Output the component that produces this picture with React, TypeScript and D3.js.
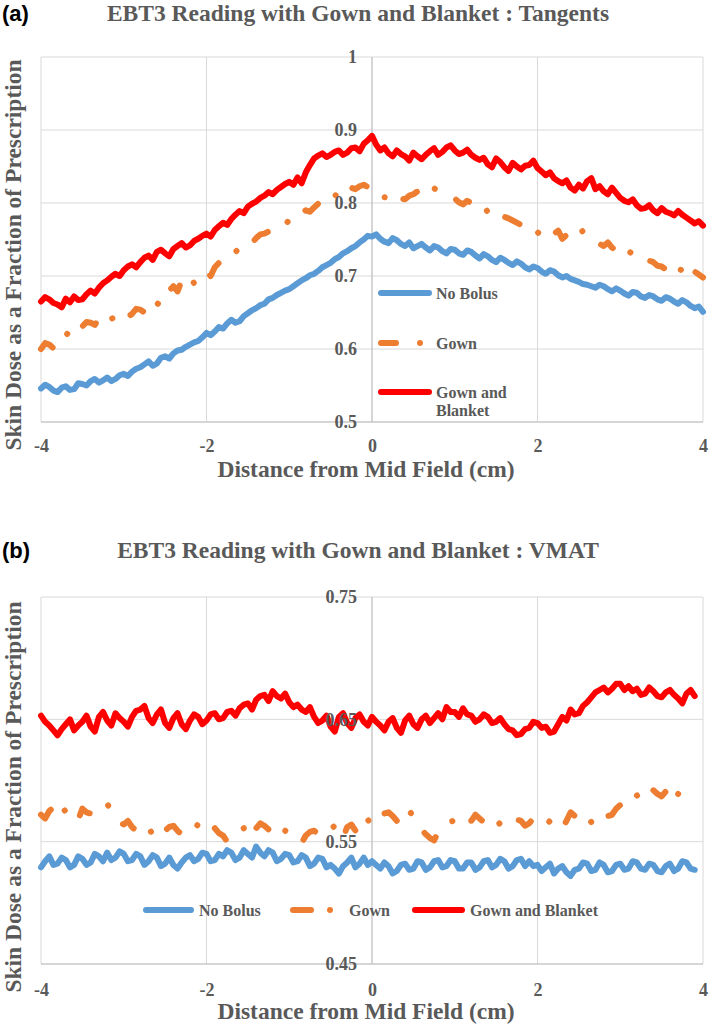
import { useEffect, useRef } from "react";
import * as d3 from "d3";

// film positions (cm), one reading every 0.05 cm
const distanceA = d3.range(-80, 81).map((i) => i / 20);
const distanceB = d3.range(-80, 79).map((i) => i / 20);

const xTicks = [-4, -2, 0, 2, 4];
const yTicksA = [0.5, 0.6, 0.7, 0.8, 0.9, 1];
const yTicksB = [0.45, 0.55, 0.65, 0.75];

const seriesNames = ["No Bolus", "Gown", "Gown and Blanket"];

// (a) Tangents
const noBolusA = [
  0.546, 0.551, 0.548, 0.543, 0.541, 0.547, 0.549, 0.544, 0.545, 0.553,
  0.552, 0.55, 0.556, 0.559, 0.554, 0.557, 0.561, 0.556, 0.559, 0.564,
  0.566, 0.563, 0.569, 0.573, 0.575, 0.579, 0.583, 0.577, 0.58, 0.588,
  0.59, 0.587, 0.594, 0.598, 0.599, 0.603, 0.606, 0.609, 0.611, 0.616,
  0.622, 0.619, 0.624, 0.63, 0.628, 0.635, 0.64, 0.636, 0.638, 0.645,
  0.649, 0.653, 0.656, 0.66, 0.662, 0.668, 0.67, 0.674, 0.677, 0.68,
  0.682, 0.686, 0.69, 0.694, 0.697, 0.701, 0.703, 0.707, 0.712, 0.715,
  0.718, 0.723, 0.726, 0.731, 0.734, 0.738, 0.741, 0.746, 0.75, 0.755,
  0.754, 0.757, 0.751, 0.747, 0.745, 0.752, 0.749, 0.744, 0.741, 0.746,
  0.738, 0.741, 0.744, 0.739, 0.735, 0.741, 0.739, 0.734, 0.731, 0.737,
  0.736, 0.731, 0.729, 0.735, 0.733, 0.728, 0.724, 0.73, 0.727, 0.722,
  0.719, 0.725, 0.722, 0.718, 0.715, 0.72, 0.717, 0.712, 0.709, 0.713,
  0.711, 0.706, 0.703, 0.708, 0.706, 0.701, 0.698, 0.7, 0.696, 0.694,
  0.692, 0.689, 0.688, 0.686, 0.684, 0.688, 0.686, 0.682, 0.679, 0.683,
  0.68, 0.676, 0.673, 0.678, 0.677, 0.672, 0.67, 0.674, 0.672, 0.668,
  0.666, 0.671, 0.669, 0.665, 0.662, 0.667, 0.664, 0.659, 0.656, 0.658,
  0.651,
];
const gownA = [
  0.6, 0.608, 0.606, 0.601, 0.612, 0.61, 0.618, 0.626, 0.624, 0.62,
  0.631, 0.637, 0.636, 0.633, 0.642, 0.649, 0.647, 0.641, 0.645, 0.652,
  0.65, 0.644, 0.648, 0.655, 0.654, 0.65, 0.657, 0.652, 0.663, 0.659,
  0.668, 0.68, 0.686, 0.679, 0.694, 0.701, 0.7, 0.69, 0.696, 0.703,
  0.707, 0.7, 0.712, 0.718, 0.716, 0.724, 0.728, 0.733, 0.738, 0.744,
  0.748, 0.745, 0.752, 0.757, 0.758, 0.761, 0.764, 0.769, 0.772, 0.77,
  0.777, 0.784, 0.781, 0.786, 0.79, 0.788, 0.794, 0.799, 0.801, 0.797,
  0.806, 0.811, 0.809, 0.805, 0.815, 0.821, 0.819, 0.823, 0.825, 0.822,
  0.818, 0.821, 0.813, 0.808, 0.807, 0.815, 0.811, 0.806, 0.805, 0.81,
  0.812, 0.816, 0.808, 0.811, 0.815, 0.82, 0.817, 0.814, 0.812, 0.809,
  0.806, 0.801, 0.798, 0.803, 0.8, 0.795, 0.793, 0.797, 0.787, 0.783,
  0.789, 0.784, 0.781, 0.779, 0.776, 0.773, 0.77, 0.767, 0.764, 0.756,
  0.76, 0.755, 0.752, 0.749, 0.758, 0.762, 0.751, 0.756, 0.763, 0.766,
  0.758, 0.762, 0.76, 0.754, 0.748, 0.744, 0.741, 0.746, 0.739, 0.735,
  0.743, 0.738, 0.734, 0.73, 0.728, 0.731, 0.725, 0.721, 0.719, 0.714,
  0.713, 0.709, 0.717, 0.719, 0.711, 0.707, 0.714, 0.718, 0.706, 0.702,
  0.698,
];
const gownBlanketA = [
  0.665, 0.671, 0.668, 0.663, 0.661, 0.657, 0.669, 0.664, 0.672, 0.667,
  0.668, 0.675, 0.68, 0.676, 0.684, 0.69, 0.694, 0.699, 0.703, 0.7,
  0.708, 0.713, 0.716, 0.712, 0.719, 0.725, 0.728, 0.722, 0.733, 0.736,
  0.731, 0.727, 0.737, 0.741, 0.745, 0.739, 0.742, 0.748, 0.751, 0.755,
  0.758, 0.754, 0.763, 0.768, 0.773, 0.77, 0.778, 0.784, 0.789, 0.786,
  0.795, 0.799, 0.802, 0.807, 0.81, 0.815, 0.812, 0.818, 0.822, 0.826,
  0.829, 0.825, 0.835, 0.827, 0.842, 0.852, 0.861, 0.865, 0.868, 0.863,
  0.866, 0.87, 0.872, 0.866, 0.869, 0.875, 0.876, 0.871, 0.881, 0.886,
  0.892, 0.88, 0.872, 0.876, 0.868, 0.864, 0.872, 0.867, 0.864, 0.858,
  0.869, 0.864, 0.86, 0.866, 0.871, 0.875, 0.866, 0.87, 0.876, 0.879,
  0.872, 0.867, 0.869, 0.873, 0.866, 0.862, 0.859, 0.862, 0.853, 0.849,
  0.861, 0.856, 0.849, 0.844, 0.855, 0.85, 0.846, 0.851, 0.852, 0.858,
  0.848, 0.843, 0.838, 0.842, 0.834, 0.83, 0.827, 0.831, 0.821, 0.817,
  0.825, 0.82, 0.83, 0.834, 0.819, 0.823, 0.816, 0.812, 0.821, 0.814,
  0.807, 0.803, 0.801, 0.805, 0.797, 0.792, 0.793, 0.797, 0.79, 0.786,
  0.793, 0.788, 0.786, 0.783, 0.789, 0.784, 0.78, 0.776, 0.772, 0.775,
  0.769,
];

// (b) VMAT
const noBolusB = [
  0.529, 0.534, 0.538, 0.531, 0.532, 0.537, 0.535, 0.529, 0.531, 0.538,
  0.536, 0.531, 0.533, 0.54, 0.538, 0.534, 0.541, 0.535, 0.537, 0.542,
  0.54, 0.534, 0.535, 0.54, 0.538, 0.531, 0.534, 0.539, 0.537, 0.53,
  0.532, 0.537, 0.531, 0.528, 0.533, 0.537, 0.539, 0.534, 0.536, 0.541,
  0.54, 0.534, 0.535, 0.54, 0.538, 0.543, 0.541, 0.535, 0.537, 0.543,
  0.54, 0.537, 0.546, 0.541, 0.538, 0.543, 0.541, 0.534, 0.536, 0.54,
  0.539, 0.533, 0.534, 0.539, 0.537, 0.53, 0.532, 0.537, 0.536, 0.529,
  0.531, 0.528, 0.524, 0.53, 0.533, 0.537, 0.529, 0.532, 0.537, 0.531,
  0.534, 0.531, 0.528, 0.533, 0.53, 0.524, 0.526, 0.531, 0.532, 0.527,
  0.528, 0.534, 0.533, 0.527, 0.529, 0.534, 0.535, 0.529, 0.53, 0.535,
  0.534, 0.528, 0.528, 0.533, 0.533, 0.527, 0.529, 0.534, 0.535, 0.529,
  0.531, 0.536, 0.534, 0.528, 0.53, 0.535, 0.536, 0.53, 0.534, 0.53,
  0.531, 0.526, 0.529, 0.532, 0.524, 0.528, 0.53, 0.525, 0.522, 0.527,
  0.528, 0.533, 0.532, 0.526, 0.527, 0.533, 0.531, 0.525, 0.526, 0.531,
  0.532, 0.527, 0.528, 0.534, 0.533, 0.528, 0.527, 0.532, 0.531, 0.526,
  0.525, 0.53, 0.532, 0.526, 0.528, 0.534, 0.533, 0.528, 0.527,
];
const gownB = [
  0.572, 0.569, 0.575, 0.578, 0.57, 0.574, 0.576, 0.571, 0.572, 0.568,
  0.577, 0.574, 0.573, 0.577, 0.576, 0.579, 0.581, 0.575, 0.57, 0.566,
  0.564, 0.567, 0.562, 0.559, 0.558, 0.563, 0.561, 0.556, 0.552, 0.555,
  0.559, 0.562, 0.563, 0.559, 0.556, 0.558, 0.56, 0.565, 0.563, 0.559,
  0.558, 0.563, 0.561, 0.557, 0.555, 0.55, 0.553, 0.557, 0.559, 0.561,
  0.556, 0.553, 0.561, 0.565, 0.563, 0.56, 0.558, 0.564, 0.562, 0.559,
  0.557, 0.554, 0.551, 0.549, 0.555, 0.558, 0.559, 0.556, 0.554, 0.557,
  0.56, 0.563, 0.557, 0.553, 0.562, 0.564, 0.559, 0.556, 0.565, 0.568,
  0.563, 0.566, 0.57, 0.573, 0.574, 0.571, 0.567, 0.572, 0.578, 0.575,
  0.571, 0.566, 0.56, 0.556, 0.553, 0.551, 0.558, 0.561, 0.562, 0.566,
  0.568, 0.572, 0.571, 0.567, 0.567, 0.572, 0.569, 0.566, 0.565, 0.57,
  0.568, 0.564, 0.566, 0.569, 0.571, 0.568, 0.567, 0.563, 0.565, 0.569,
  0.567, 0.564, 0.563, 0.567, 0.568, 0.564, 0.561, 0.567, 0.574, 0.571,
  0.568, 0.572, 0.571, 0.566, 0.57, 0.573, 0.575, 0.571, 0.572, 0.577,
  0.58, 0.578, 0.584, 0.587, 0.588, 0.583, 0.585, 0.59, 0.592, 0.589,
  0.587, 0.591, 0.585, 0.582, 0.589, 0.586, 0.583, 0.588, 0.586,
];
const gownBlanketB = [
  0.653, 0.648, 0.645, 0.641, 0.637, 0.642, 0.646, 0.65, 0.641, 0.645,
  0.648, 0.653, 0.644, 0.64, 0.652, 0.656, 0.649, 0.645, 0.655, 0.651,
  0.648, 0.644, 0.652, 0.657, 0.658, 0.661, 0.651, 0.647, 0.654, 0.658,
  0.647, 0.643, 0.651, 0.655, 0.646, 0.642, 0.649, 0.654, 0.652, 0.646,
  0.649, 0.654, 0.655, 0.65, 0.651, 0.656, 0.657, 0.653, 0.659, 0.662,
  0.663, 0.658, 0.666, 0.669, 0.67, 0.665, 0.673, 0.669, 0.667, 0.671,
  0.664, 0.66, 0.662, 0.658, 0.656, 0.66, 0.652, 0.647, 0.649, 0.653,
  0.644, 0.64, 0.652, 0.655, 0.647, 0.643, 0.651, 0.654, 0.648, 0.645,
  0.652, 0.648, 0.645, 0.641, 0.648, 0.651, 0.643, 0.639, 0.649, 0.653,
  0.646, 0.643, 0.65, 0.653, 0.647, 0.651, 0.655, 0.65, 0.66, 0.656,
  0.656, 0.652, 0.659, 0.654, 0.653, 0.648, 0.65, 0.654, 0.652, 0.647,
  0.648, 0.651, 0.646, 0.642, 0.641, 0.637, 0.638, 0.642, 0.643, 0.648,
  0.647, 0.643, 0.644, 0.639, 0.64, 0.646, 0.652, 0.649, 0.658, 0.654,
  0.655, 0.661, 0.664, 0.668, 0.672, 0.674, 0.676, 0.672, 0.675, 0.679,
  0.679, 0.674, 0.677, 0.673, 0.675, 0.67, 0.671, 0.676, 0.673, 0.669,
  0.668, 0.672, 0.674, 0.67, 0.667, 0.663, 0.671, 0.674, 0.669,
];

const COLORS = ["#5B9BD5", "#ED7D31", "#FF0000"];
const SERIF = "'Liberation Serif', 'Times New Roman', serif";
const TEXT = "#595959";

const panels = [
  {
    tag: "(a)",
    title: "EBT3 Reading with Gown and Blanket : Tangents",
    distance: distanceA,
    values: [noBolusA, gownA, gownBlanketA],
    yTicks: yTicksA,
    yDomain: [0.5, 1],
    top: 57,
    bottom: 422,
    titleY: 21,
    xTickPad: 17,
    xTitleY: 477,
    yTitleMid: 255,
    legend: [
      { x1: 378, x2: 432, y: 293, tx: 436, lines: ["No Bolus"] },
      { x1: 378, x2: 399, dot: 420, y: 343, tx: 436, lines: ["Gown"] },
      { x1: 378, x2: 432, y: 392, tx: 436, lines: ["Gown and", "Blanket"] },
    ],
  },
  {
    tag: "(b)",
    title: "EBT3 Reading with Gown and Blanket : VMAT",
    distance: distanceB,
    values: [noBolusB, gownB, gownBlanketB],
    yTicks: yTicksB,
    yDomain: [0.45, 0.75],
    top: 597,
    bottom: 964,
    titleY: 558,
    xTickPad: 19,
    xTitleY: 1019,
    yTitleMid: 797,
    legend: [
      { x1: 143, x2: 194, y: 910, tx: 199, lines: ["No Bolus"] },
      { x1: 290, x2: 314, dot: 330, y: 910, tx: 349, lines: ["Gown"] },
      { x1: 412, x2: 465, y: 910, tx: 470, lines: ["Gown and Blanket"] },
    ],
  },
];

const drawPanel = (svg: any, p: any) => {
  const x = d3.scaleLinear().domain([-4, 4]).range([41, 703]);
  const y = d3.scaleLinear().domain(p.yDomain).range([p.bottom, p.top]);
  const g = svg.append("g");

  // gridlines
  g.selectAll(".hgrid")
    .data(p.yTicks)
    .enter()
    .append("line")
    .attr("x1", x(-4))
    .attr("x2", x(4))
    .attr("y1", (d: number) => y(d))
    .attr("y2", (d: number) => y(d))
    .attr("stroke", "#d9d9d9");

  g.selectAll(".vgrid")
    .data(xTicks)
    .enter()
    .append("line")
    .attr("x1", (d: number) => x(d))
    .attr("x2", (d: number) => x(d))
    .attr("y1", p.top)
    .attr("y2", p.bottom)
    .attr("stroke", "#d9d9d9");

  // axis lines (y axis crosses at 0)
  g.append("line")
    .attr("x1", x(0))
    .attr("x2", x(0))
    .attr("y1", p.top)
    .attr("y2", p.bottom)
    .attr("stroke", "#bfbfbf");
  g.append("line")
    .attr("x1", x(-4))
    .attr("x2", x(4))
    .attr("y1", p.bottom)
    .attr("y2", p.bottom)
    .attr("stroke", "#bfbfbf");

  // series
  const line = d3
    .line<number>()
    .x((d, i) => x(p.distance[i]))
    .y((d) => y(d));

  p.values.forEach((vals: number[], i: number) => {
    g.append("path")
      .datum(vals)
      .attr("d", line)
      .attr("fill", "none")
      .attr("stroke", COLORS[i])
      .attr("stroke-width", 6)
      .attr("stroke-linejoin", "round")
      .attr("stroke-linecap", "round")
      .attr("stroke-dasharray", i === 1 ? "16 24 0.1 24" : null);
  });

  // tick labels
  const yAxis = g
    .append("g")
    .attr("transform", `translate(${x(0)},0)`)
    .call(
      d3
        .axisLeft(y)
        .tickValues(p.yTicks)
        .tickSize(0)
        .tickPadding(15)
        .tickFormat((d: any) => String(d))
    );
  yAxis.select(".domain").remove();
  yAxis
    .selectAll("text")
    .style("font-family", SERIF)
    .style("font-size", "18px")
    .style("font-weight", "bold")
    .style("fill", TEXT);

  const xAxis = g
    .append("g")
    .attr("transform", `translate(0,${p.bottom})`)
    .call(
      d3
        .axisBottom(x)
        .tickValues(xTicks)
        .tickSize(0)
        .tickPadding(p.xTickPad)
        .tickFormat((d: any) => String(d))
    );
  xAxis.select(".domain").remove();
  xAxis
    .selectAll("text")
    .style("font-family", SERIF)
    .style("font-size", "18px")
    .style("font-weight", "bold")
    .style("fill", TEXT);

  // titles
  svg
    .append("text")
    .attr("x", 2)
    .attr("y", p.titleY)
    .style("font-family", "'Liberation Sans', Arial, sans-serif")
    .style("font-size", "22px")
    .style("font-weight", "bold")
    .style("fill", "#000")
    .text(p.tag);

  svg
    .append("text")
    .attr("x", 358)
    .attr("y", p.titleY)
    .attr("text-anchor", "middle")
    .style("font-family", SERIF)
    .style("font-size", "23.5px")
    .style("font-weight", "bold")
    .style("fill", TEXT)
    .text(p.title);

  svg
    .append("text")
    .attr("x", 366)
    .attr("y", p.xTitleY)
    .attr("text-anchor", "middle")
    .style("font-family", SERIF)
    .style("font-size", "23.5px")
    .style("font-weight", "bold")
    .style("fill", TEXT)
    .text("Distance from Mid Field (cm)");

  svg
    .append("text")
    .attr("transform", `translate(21,${p.yTitleMid}) rotate(-90)`)
    .attr("text-anchor", "middle")
    .style("font-family", SERIF)
    .style("font-size", "23.5px")
    .style("font-weight", "bold")
    .style("fill", TEXT)
    .text("Skin Dose as a Fraction of Prescription");

  // legend
  p.legend.forEach((L: any, i: number) => {
    g.append("line")
      .attr("x1", L.x1 + 3)
      .attr("x2", L.x2 - 3)
      .attr("y1", L.y)
      .attr("y2", L.y)
      .attr("stroke", COLORS[i])
      .attr("stroke-width", 6)
      .attr("stroke-linecap", "round");
    if (L.dot) {
      g.append("circle")
        .attr("cx", L.dot)
        .attr("cy", L.y)
        .attr("r", 3)
        .attr("fill", COLORS[i]);
    }
    L.lines.forEach((t: string, k: number) => {
      g.append("text")
        .attr("x", L.tx)
        .attr("y", L.y + 5.5 + k * 18)
        .style("font-family", SERIF)
        .style("font-size", "16px")
        .style("font-weight", "bold")
        .style("fill", TEXT)
        .text(i === 0 && k === 0 ? seriesNames[0] : t);
    });
  });
};

export default function App() {
  const svgRef = useRef<SVGSVGElement>(null);

  useEffect(() => {
    const svg = d3.select(svgRef.current);
    svg.selectAll("*").remove();
    svg.append("rect").attr("width", 709).attr("height", 1024).attr("fill", "#fff");
    panels.forEach((p) => drawPanel(svg, p));
  }, []);

  return (
    <svg
      ref={svgRef}
      width={709}
      height={1024}
      style={{ position: "absolute", left: 0, top: 0 }}
    />
  );
}
